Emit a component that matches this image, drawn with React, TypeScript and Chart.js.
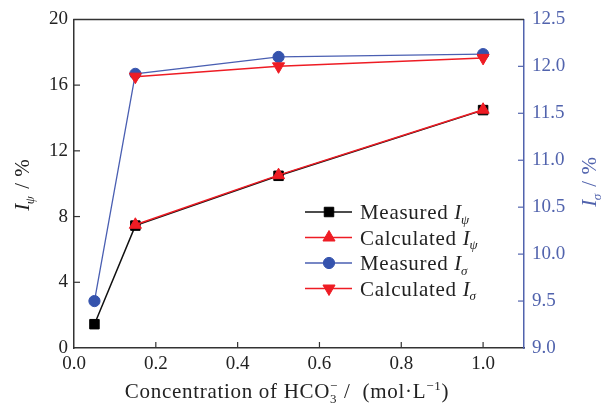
import React, { useEffect, useRef } from 'react';
import { Chart, registerables } from 'chart.js';
import { drawPoint } from 'chart.js/helpers';

Chart.register(...registerables);

// ---- data ----
const concentrations = [0.05, 0.15, 0.5, 1.0];
const calcConcentrations = [0.15, 0.5, 1.0];
const measuredIpsi = [1.45, 7.45, 10.48, 14.48];
const calculatedIpsi = [7.5, 10.52, 14.5];
const measuredIsigma = [9.5, 11.92, 12.1, 12.13];
const calculatedIsigma = [11.89, 12.0, 12.09];
const xTicks = [0, 0.2, 0.4, 0.6, 0.8, 1.0];
const leftTicks = [0, 4, 8, 12, 16, 20];
const rightTicks = [9.0, 9.5, 10.0, 10.5, 11.0, 11.5, 12.0, 12.5];

const FONT = '"Liberation Serif", "DejaVu Serif", serif';
const BLUE_AXIS = '#5163ad';
const BLUE = '#3553ad';
const RED = '#ee1c24';
const AXIS = '#333333';

type Seg = { t: string; it?: boolean; sub?: string; sup?: string; subIt?: boolean };

function font(ctx: CanvasRenderingContext2D, size: number, italic?: boolean) {
  ctx.font = `${italic ? 'italic ' : ''}${size}px ${FONT}`;
}

function richWidth(ctx: CanvasRenderingContext2D, segs: Seg[], size: number) {
  let w = 0;
  const s2 = size * 0.62;
  for (const s of segs) {
    font(ctx, size, s.it);
    w += ctx.measureText(s.t).width;
    let sw = 0;
    if (s.sub) { font(ctx, s2, s.subIt); sw = Math.max(sw, ctx.measureText(s.sub).width); }
    if (s.sup) { font(ctx, s2, false); sw = Math.max(sw, ctx.measureText(s.sup).width); }
    w += sw;
  }
  return w;
}

function drawRich(ctx: CanvasRenderingContext2D, segs: Seg[], x: number, y: number, size: number, color: string, align: 'left' | 'center', spacing = 0) {
  ctx.save();
  (ctx as any).letterSpacing = `${spacing}px`;
  ctx.fillStyle = color;
  ctx.textBaseline = 'alphabetic';
  ctx.textAlign = 'left';
  let cx = align === 'center' ? x - richWidth(ctx, segs, size) / 2 : x;
  const s2 = size * 0.62;
  for (const s of segs) {
    font(ctx, size, s.it);
    ctx.fillText(s.t, cx, y);
    cx += ctx.measureText(s.t).width;
    let sw = 0;
    if (s.sub) {
      font(ctx, s2, s.subIt);
      ctx.fillText(s.sub, cx - (s.it ? 1 : 0), y + size * 0.22);
      sw = Math.max(sw, ctx.measureText(s.sub).width);
    }
    if (s.sup) {
      font(ctx, s2, false);
      ctx.fillText(s.sup, cx, y - size * 0.38);
      sw = Math.max(sw, ctx.measureText(s.sup).width);
    }
    cx += sw;
  }
  ctx.restore();
}

const xTitle: Seg[] = [
  { t: 'Concentration of HCO', sub: '3', sup: '−' },
  { t: ' /  (mol·L', sup: '−1' },
  { t: ')' },
];
const leftTitle: Seg[] = [{ t: 'I', it: true, sub: 'ψ', subIt: true }, { t: ' / %' }];
const rightTitle: Seg[] = [{ t: 'I', it: true, sub: 'σ', subIt: true }, { t: ' / %' }];
const legendLabels: Seg[][] = [
  [{ t: 'Measured ' }, { t: 'I', it: true, sub: 'ψ', subIt: true }],
  [{ t: 'Calculated ' }, { t: 'I', it: true, sub: 'ψ', subIt: true }],
  [{ t: 'Measured ' }, { t: 'I', it: true, sub: 'σ', subIt: true }],
  [{ t: 'Calculated ' }, { t: 'I', it: true, sub: 'σ', subIt: true }],
];

const decorPlugin = {
  id: 'decor',
  afterDraw(chart: any) {
    const ctx: CanvasRenderingContext2D = chart.ctx;
    const { left, right, top, bottom } = chart.chartArea;
    const xs = chart.scales.x;
    const yl = chart.scales.y;
    const yr = chart.scales.y2;
    ctx.save();
    // top border
    ctx.strokeStyle = AXIS;
    ctx.lineWidth = 1.5;
    ctx.beginPath();
    ctx.moveTo(left - 0.75, top);
    ctx.lineTo(right, top);
    ctx.stroke();
    // inward ticks
    const TL = 6;
    ctx.lineWidth = 1.2;
    ctx.strokeStyle = AXIS;
    for (const v of xTicks) {
      const p = xs.getPixelForValue(v);
      if (Math.abs(p - left) < 2 || Math.abs(p - right) < 2) continue;
      ctx.beginPath(); ctx.moveTo(p, bottom); ctx.lineTo(p, bottom - TL); ctx.stroke();
    }
    for (const v of leftTicks) {
      const p = yl.getPixelForValue(v);
      if (Math.abs(p - top) < 2 || Math.abs(p - bottom) < 2) continue;
      ctx.beginPath(); ctx.moveTo(left, p); ctx.lineTo(left + TL, p); ctx.stroke();
    }
    ctx.strokeStyle = BLUE_AXIS;
    for (const v of rightTicks) {
      const p = yr.getPixelForValue(v);
      if (Math.abs(p - top) < 2 || Math.abs(p - bottom) < 2) continue;
      ctx.beginPath(); ctx.moveTo(right, p); ctx.lineTo(right - TL, p); ctx.stroke();
    }
    ctx.restore();

    // titles
    drawRich(ctx, xTitle, 287, 398, 21, '#222', 'center', 0.7);
    ctx.save();
    ctx.translate(29, (top + bottom) / 2 + 1);
    ctx.rotate(-Math.PI / 2);
    drawRich(ctx, leftTitle, 0, 0, 21, '#222', 'center', 0.5);
    ctx.restore();
    ctx.save();
    ctx.translate(596, (top + bottom) / 2 - 2);
    ctx.rotate(-Math.PI / 2);
    drawRich(ctx, rightTitle, 0, 0, 21, BLUE_AXIS, 'center', 0.5);
    ctx.restore();

    // legend
    const lx0 = 305, lx1 = 352, mx = 329, tx = 360;
    const y0 = 212, dy = 25.5;
    chart.data.datasets.forEach((ds: any, i: number) => {
      const y = y0 + i * dy;
      ctx.save();
      ctx.strokeStyle = ds.borderColor;
      ctx.lineWidth = ds.borderWidth;
      ctx.beginPath(); ctx.moveTo(lx0, y); ctx.lineTo(lx1, y); ctx.stroke();
      ctx.fillStyle = ds.pointBackgroundColor;
      ctx.strokeStyle = ds.pointBorderColor;
      ctx.lineWidth = ds.pointBorderWidth;
      drawPoint(ctx, { pointStyle: ds.pointStyle, rotation: ds.pointRotation || 0, radius: ds.pointRadius, borderWidth: ds.pointBorderWidth }, mx, y);
      ctx.restore();
      drawRich(ctx, legendLabels[i], tx, y + 7, 21, '#222', 'left', 0.7);
    });
  },
};

const tickFont = { family: FONT, size: 19 };

export default function App() {
  const ref = useRef<HTMLCanvasElement>(null);
  useEffect(() => {
    if (!ref.current) return;
    const chart = new Chart(ref.current, {
      type: 'line',
      data: {
        datasets: [
          {
            label: 'Measured Iψ',
            data: concentrations.map((x, i) => ({ x, y: measuredIpsi[i] })),
            yAxisID: 'y',
            borderColor: '#111111',
            borderWidth: 1.5,
            pointStyle: 'rect',
            pointRadius: 6.7,
            pointBackgroundColor: '#000000',
            pointBorderColor: '#000000',
            pointBorderWidth: 1,
            order: 2,
          },
          {
            label: 'Calculated Iψ',
            data: calcConcentrations.map((x, i) => ({ x, y: calculatedIpsi[i] })),
            yAxisID: 'y',
            borderColor: RED,
            borderWidth: 1.5,
            pointStyle: 'triangle',
            pointRadius: 7,
            pointBackgroundColor: RED,
            pointBorderColor: RED,
            pointBorderWidth: 1,
            order: 0,
          },
          {
            label: 'Measured Iσ',
            data: concentrations.map((x, i) => ({ x, y: measuredIsigma[i] })),
            yAxisID: 'y2',
            borderColor: '#4a5fb2',
            borderWidth: 1.3,
            pointStyle: 'circle',
            pointRadius: 5.6,
            pointBackgroundColor: BLUE,
            pointBorderColor: BLUE,
            pointBorderWidth: 1,
            order: 3,
          },
          {
            label: 'Calculated Iσ',
            data: calcConcentrations.map((x, i) => ({ x, y: calculatedIsigma[i] })),
            yAxisID: 'y2',
            borderColor: RED,
            borderWidth: 1.5,
            pointStyle: 'triangle',
            pointRotation: 180,
            pointRadius: 7,
            pointBackgroundColor: RED,
            pointBorderColor: RED,
            pointBorderWidth: 1,
            order: 1,
          },
        ],
      },
      options: {
        animation: false,
        responsive: false,
        devicePixelRatio: 1,
        layout: { padding: { top: 17, left: 0, right: 0, bottom: 0 } },
        plugins: { legend: { display: false }, tooltip: { enabled: false } },
        scales: {
          x: {
            type: 'linear',
            position: 'bottom',
            min: 0,
            max: 1.1,
            afterBuildTicks: (s: any) => { s.ticks = xTicks.map((v) => ({ value: v })); },
            afterFit: (s: any) => { s.height = 63; },
            grid: { display: false, drawTicks: false },
            border: { display: true, color: AXIS, width: 1.5 },
            ticks: { padding: 5, font: tickFont, color: '#222', maxRotation: 0, autoSkip: false, callback: (v: any) => Number(v).toFixed(1) },
          },
          y: {
            type: 'linear',
            position: 'left',
            min: 0,
            max: 20,
            afterBuildTicks: (s: any) => { s.ticks = leftTicks.map((v) => ({ value: v })); },
            afterFit: (s: any) => { s.width = 74; },
            grid: { display: false, drawTicks: false },
            border: { display: true, color: AXIS, width: 1.5 },
            ticks: { padding: 6, font: tickFont, color: '#222', autoSkip: false, callback: (v: any) => String(v) },
          },
          y2: {
            type: 'linear',
            position: 'right',
            min: 9,
            max: 12.5,
            afterBuildTicks: (s: any) => { s.ticks = rightTicks.map((v) => ({ value: v })); },
            afterFit: (s: any) => { s.width = 84; },
            grid: { display: false, drawTicks: false },
            border: { display: true, color: BLUE_AXIS, width: 1.5 },
            ticks: { padding: 8, font: tickFont, color: BLUE_AXIS, autoSkip: false, callback: (v: any) => Number(v).toFixed(1) },
          },
        },
      },
      plugins: [decorPlugin],
    } as any);
    return () => chart.destroy();
  }, []);
  return (
    <div style={{ position: 'absolute', left: 0, top: 0, width: 608, height: 411, background: '#fff' }}>
      <canvas ref={ref} width={608} height={411} />
    </div>
  );
}
